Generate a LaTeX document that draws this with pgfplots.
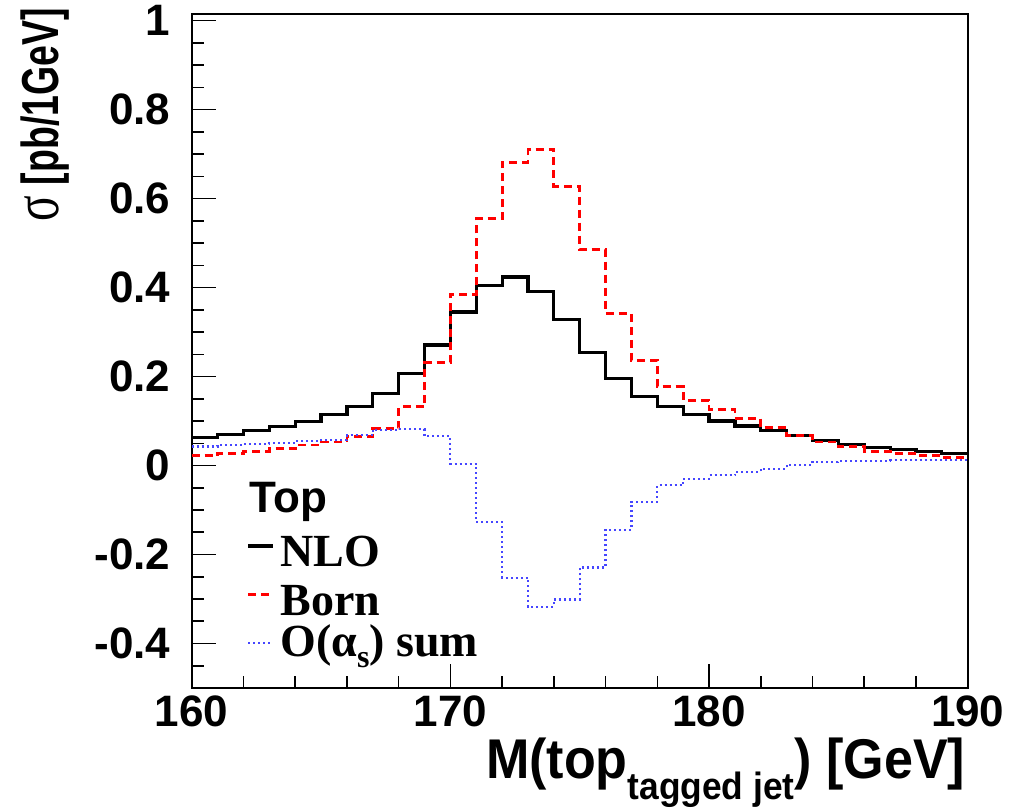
\documentclass[border=0pt]{standalone}
\usepackage{pgfplots}
\pgfplotsset{compat=1.18}
\usepackage{pgfplotstable}
\usepackage{graphicx}
\usepackage{fontspec}
\setmainfont{Liberation Sans}
\newfontfamily\serifrm{Liberation Serif}
\definecolor{histred}{RGB}{255,0,0}
\definecolor{histblue}{RGB}{70,70,255}
\pgfplotstableread{
x nlo born sum
160 0.063 0.022 0.043
161 0.070 0.027 0.046
162 0.078 0.032 0.049
163 0.088 0.038 0.051
164 0.099 0.046 0.055
165 0.115 0.053 0.058
166 0.133 0.066 0.068
167 0.162 0.083 0.080
168 0.207 0.132 0.082
169 0.271 0.231 0.066
170 0.345 0.385 0.004
171 0.405 0.555 -0.127
172 0.424 0.682 -0.252
173 0.392 0.710 -0.318
174 0.328 0.628 -0.301
175 0.255 0.485 -0.229
176 0.195 0.342 -0.144
177 0.156 0.237 -0.082
178 0.132 0.177 -0.044
179 0.115 0.147 -0.030
180 0.100 0.126 -0.022
181 0.089 0.106 -0.014
182 0.078 0.085 -0.007
183 0.067 0.068 0.001
184 0.057 0.053 0.008
185 0.048 0.042 0.010
186 0.040 0.032 0.011
187 0.036 0.027 0.012
188 0.031 0.023 0.012
189 0.028 0.019 0.012
190 0.028 0.019 0.012
}\histdata
\begin{document}
\begin{tikzpicture}
\begin{axis}[
  scale only axis, width=388pt, height=337pt,
  xmin=160, xmax=190, ymin=-0.5, ymax=1.015,
  xtick={160,170,180,190}, xticklabels={160,170,180,190},
  minor xtick={162,164,166,168,172,174,176,178,182,184,186,188},
  ytick={-0.4,-0.2,0,0.2,0.4,0.6,0.8,1},
  yticklabels={-0.4,-0.2,0,0.2,0.4,0.6,0.8,1},
  minor ytick={-0.45,-0.35,-0.3,-0.25,-0.15,-0.1,-0.05,0.05,0.1,0.15,0.25,0.3,0.35,0.45,0.5,0.55,0.65,0.7,0.75,0.85,0.9,0.95},
  tick pos=left, tick align=inside,
  major tick length=12pt, minor tick length=6pt,
  every tick/.style={black, line width=0.8pt},
  axis line style={line width=1pt},
  ticklabel style={font=\fontsize{22}{22}\selectfont\bfseries, inner sep=0pt},
  xticklabel style={anchor=north, yshift=-3.5pt},
  yticklabel style={anchor=east, xshift=-10.5pt},
  legend style={draw=none, fill=none, at={(rel axis cs:0.0709,0.3154)}, anchor=north west,
    inner sep=0pt, outer sep=0pt, row sep=2.3pt, column sep=2.7pt,
    nodes={inner sep=0pt, anchor=west}},
  legend cell align=left,
  legend image code/.code={\draw[#1] (0pt,0pt) -- (12.5pt,0pt);},
]
\coordinate (bl) at (rel axis cs:0,0);
\coordinate (tr) at (rel axis cs:1,1);
\coordinate (tl) at (rel axis cs:0,1);
\coordinate (br) at (rel axis cs:1,0);
\addlegendimage{empty legend}
\addlegendentry[text height=18.3pt, text depth=3.7pt]{\hspace*{-15.2pt}\fontsize{22}{22}\selectfont\bfseries Top}
\addplot[const plot, black, line width=1.6pt] table[x=x, y=nlo]{\histdata};
\addlegendentry[text height=21.3pt, text depth=0.7pt]{\serifrm\fontsize{23}{23}\selectfont\bfseries NLO}
\addplot[const plot, histred, line width=1.4pt, dash pattern=on 4pt off 2.5pt] table[x=x, y=born]{\histdata};
\addlegendentry[text height=21.5pt, text depth=0.5pt]{\serifrm\fontsize{23}{23}\selectfont\bfseries Born}
\addplot[const plot, histblue, line width=1.1pt, dash pattern=on 1pt off 1.5pt] table[x=x, y=sum]{\histdata};
\addlegendentry[text height=17.7pt, text depth=4.3pt]{\serifrm\fontsize{23}{23}\selectfont\bfseries O(α\raisebox{-5.5pt}{\fontsize{16}{16}\selectfont s}) sum}
\end{axis}
\node[rotate=90, anchor=base east, inner sep=0pt] at ([shift={(-66.35pt,3pt)}]tl)
  {\scalebox{0.72}[1]{\fontsize{26}{26}\selectfont{\serifrm\fontsize{33}{33}\selectfont σ} \bfseries [pb/1GeV]}};
\node[anchor=base east, inner sep=0pt] at ([shift={(-1pt,-45pt)}]br)
  {\scalebox{0.93}[1]{\fontsize{28}{28}\selectfont\bfseries M(top\raisebox{-10.5pt}{\fontsize{19}{19}\selectfont tagged jet}) [GeV]}};
\pgfresetboundingbox
\path ([shift={(-95.85pt,-60pt)}]bl) rectangle ([shift={(23.15pt,7pt)}]tr);
\end{tikzpicture}
\end{document}
